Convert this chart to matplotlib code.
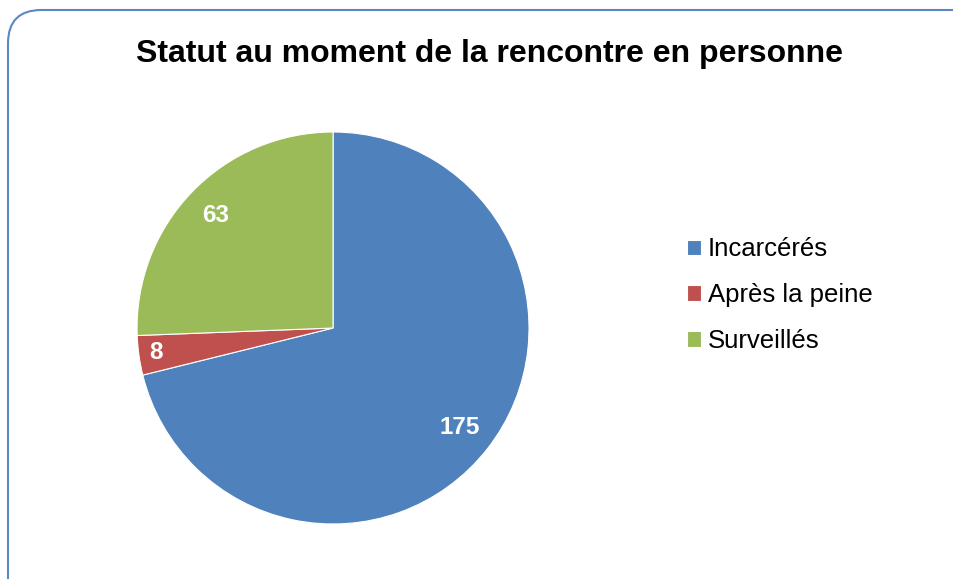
import matplotlib.pyplot as plt
import numpy as np
from matplotlib.patches import FancyBboxPatch

plt.rcParams['font.family'] = ['Liberation Sans', 'DejaVu Sans']

labels = ["Incarcérés", "Après la peine", "Surveillés"]
values = [175, 8, 63]
colors = ["#4F81BD", "#C0504D", "#9BBB59"]
label_dist = [0.82, 0.91, 0.83]

fig = plt.figure(figsize=(9.54, 5.79), dpi=100)

# rounded frame around the chart
frame = FancyBboxPatch((8 / 954, -0.2), 1.2, 1 - 10 / 579 + 0.2,
                       boxstyle="round,pad=0,rounding_size=0.035",
                       transform=fig.transFigure, facecolor="none",
                       edgecolor="#5B87C7", linewidth=1.5,
                       mutation_aspect=954 / 579, zorder=-1)
fig.patches.append(frame)

ax = fig.add_axes([0.1436, 0.095, 0.411, 0.677])
wedges, _ = ax.pie(values, colors=colors, startangle=90, counterclock=False,
                   wedgeprops=dict(edgecolor="white", linewidth=0.8))
ax.set_xlim(-1, 1)
ax.set_ylim(-1, 1)
ax.set_aspect("equal")

for w, v, d in zip(wedges, values, label_dist):
    ang = np.deg2rad((w.theta1 + w.theta2) / 2)
    ax.text(d * np.cos(ang), d * np.sin(ang), str(v), color="white",
            fontsize=17.5, fontweight="bold", ha="center", va="center")

fig.text(0.513, 1 - 54 / 579, "Statut au moment de la rencontre en personne",
         ha="center", va="center", fontsize=23, fontweight="bold")

fig.legend(wedges, labels, loc="center left", bbox_to_anchor=(0.696, 0.49),
           frameon=False, fontsize=18.5, handlelength=0.55, handleheight=0.55,
           handletextpad=0.25, labelspacing=0.85)

fig.savefig("out.png", dpi=100)
